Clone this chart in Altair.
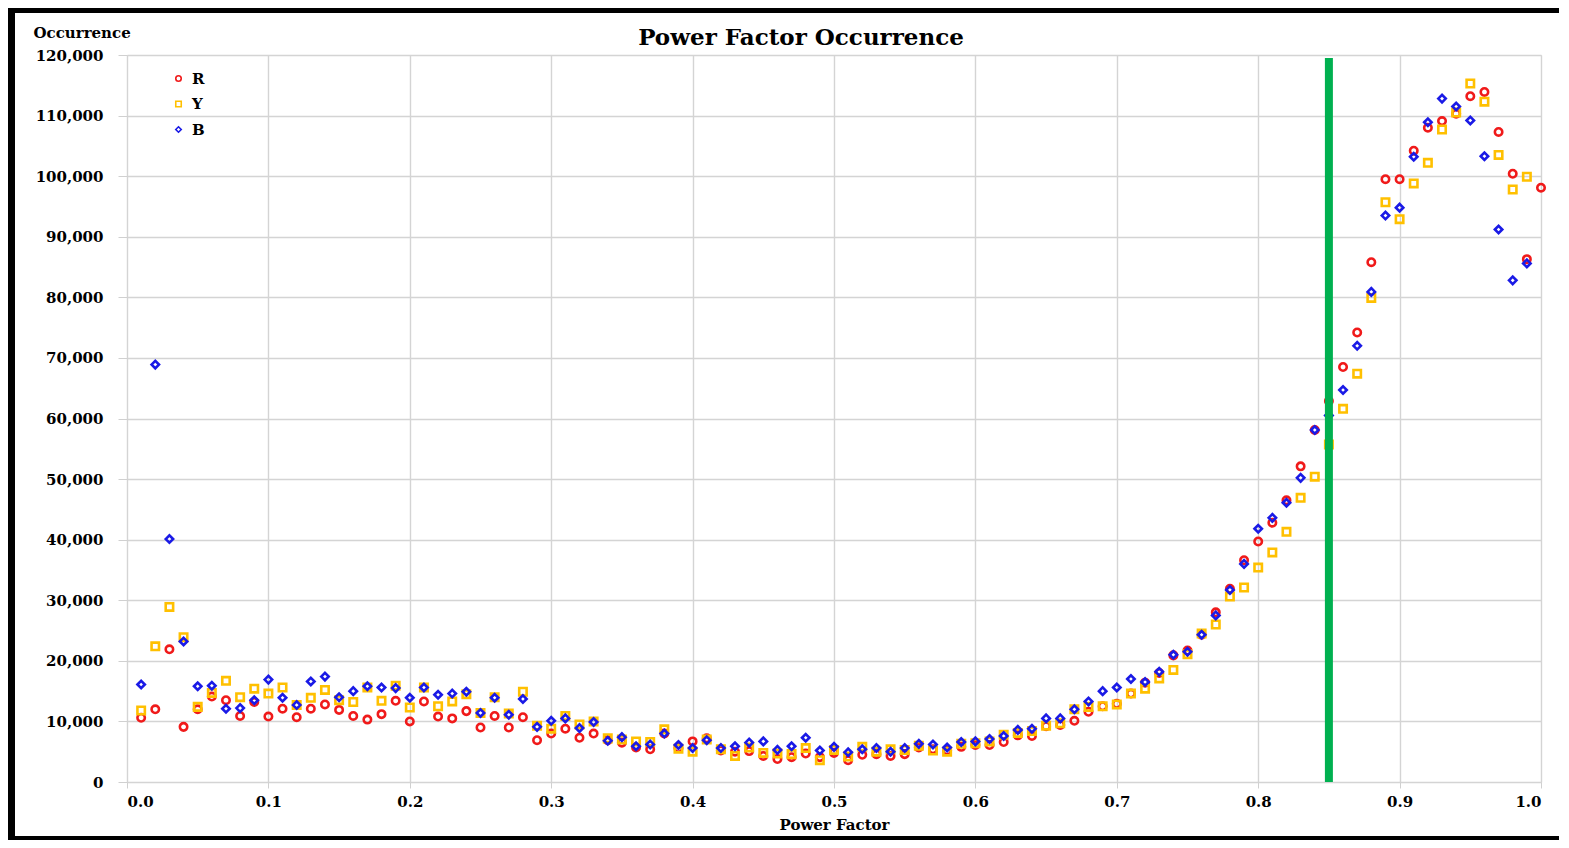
import altair as alt
import pandas as pd

power_factor = [0.01, 0.02, 0.03, 0.04, 0.05, 0.06, 0.07, 0.08, 0.09, 0.10,
                0.11, 0.12, 0.13, 0.14, 0.15, 0.16, 0.17, 0.18, 0.19, 0.20,
                0.21, 0.22, 0.23, 0.24, 0.25, 0.26, 0.27, 0.28, 0.29, 0.30,
                0.31, 0.32, 0.33, 0.34, 0.35, 0.36, 0.37, 0.38, 0.39, 0.40,
                0.41, 0.42, 0.43, 0.44, 0.45, 0.46, 0.47, 0.48, 0.49, 0.50,
                0.51, 0.52, 0.53, 0.54, 0.55, 0.56, 0.57, 0.58, 0.59, 0.60,
                0.61, 0.62, 0.63, 0.64, 0.65, 0.66, 0.67, 0.68, 0.69, 0.70,
                0.71, 0.72, 0.73, 0.74, 0.75, 0.76, 0.77, 0.78, 0.79, 0.80,
                0.81, 0.82, 0.83, 0.84, 0.85, 0.86, 0.87, 0.88, 0.89, 0.90,
                0.91, 0.92, 0.93, 0.94, 0.95, 0.96, 0.97, 0.98, 0.99, 1.00]

r_values = [10600, 12000, 21900, 9100, 12000, 14100, 13500, 10900, 13200, 10800,
            12100, 10700, 12100, 12800, 11900, 10900, 10300, 11200, 13400, 10000,
            13300, 10800, 10500, 11700, 9000, 10900, 9000, 10700, 6900, 8000,
            8800, 7300, 8000, 6900, 6500, 5700, 5400, 8000, 5600, 6700,
            7200, 5200, 5000, 5100, 4300, 3800, 4100, 4700, 4100, 4800,
            3600, 4500, 4600, 4300, 4600, 5700, 5400, 5200, 5800, 6100,
            6100, 6600, 7700, 7600, 9200, 9400, 10100, 11600, 12500, 12900,
            14600, 16400, 18000, 20900, 21700, 24300, 28000, 31900, 36600, 39700,
            42800, 46500, 52100, 58100, 62900, 68500, 74200, 85800, 99500, 99500,
            104200, 108000, 109100, 110300, 113200, 113900, 107300, 100400, 86300, 98100]

y_values = [11800, 22400, 28900, 23900, 12400, 14700, 16700, 14000, 15400, 14600,
            15600, 12700, 13900, 15200, 13500, 13200, 15600, 13400, 15900, 12300,
            15600, 12500, 13300, 14500, 11400, 14000, 11300, 14900, 9300, 8800,
            10900, 9500, 10000, 7200, 7000, 6700, 6600, 8700, 5500, 5000,
            7000, 5400, 4300, 5700, 4800, 4700, 4600, 5600, 3600, 5300,
            4200, 5800, 5000, 5400, 5300, 6000, 5200, 5000, 6300, 6400,
            6700, 7800, 8100, 8400, 9300, 9700, 12000, 12400, 12500, 12800,
            14600, 15400, 17100, 18500, 21100, 24500, 26000, 30600, 32100, 35400,
            37900, 41300, 46900, 50400, 55700, 61600, 67400, 79900, 95700, 92900,
            98800, 102200, 107700, 110500, 115300, 112300, 103500, 97800, 99900, None]

b_values = [16100, 68900, 40100, 23200, 15800, 15900, 12100, 12200, 13500, 16900,
            13900, 12700, 16600, 17400, 14000, 15000, 15800, 15600, 15500, 13900,
            15600, 14400, 14600, 14900, 11400, 13900, 11100, 13700, 9100, 10100,
            10500, 8900, 9900, 6800, 7400, 5900, 6200, 8000, 6100, 5600,
            6900, 5600, 5900, 6500, 6700, 5300, 5900, 7300, 5200, 5800,
            4900, 5400, 5600, 5000, 5600, 6300, 6200, 5700, 6600, 6700,
            7100, 7600, 8600, 8800, 10500, 10500, 12000, 13300, 15000, 15600,
            17000, 16500, 18200, 21000, 21500, 24300, 27500, 31700, 36000, 41800,
            43600, 46100, 50200, 58100, 60500, 64700, 72000, 80900, 93500, 94800,
            103200, 108900, 112800, 111500, 109200, 103300, 91200, 82800, 85600, None]

series_names = ["R", "Y", "B"]
series_colors = ["#F01A1A", "#FFC000", "#1A1AE6"]
series_shapes = ["circle", "square", "diamond"]

x_ticks = [0.0, 0.1, 0.2, 0.3, 0.4, 0.5, 0.6, 0.7, 0.8, 0.9, 1.0]
y_ticks = [0, 10000, 20000, 30000, 40000, 50000, 60000, 70000, 80000, 90000,
           100000, 110000, 120000]

threshold_pf = [0.85]
threshold_top = [119500]

rows = []
for name, vals in zip(series_names, [r_values, y_values, b_values]):
    for pf, v in zip(power_factor, vals):
        if v is not None:
            rows.append({"pf": pf, "occ": v, "series": name})
df = pd.DataFrame(rows)

W, H = 1414, 727
FONT = "DejaVu Serif"

legend = alt.Legend(
    title=None, orient="none", legendX=44, legendY=16,
    labelFont=FONT, labelFontSize=15, labelFontWeight="bold", labelColor="black",
    symbolSize=30, symbolStrokeWidth=1.6, rowPadding=9.5, labelOffset=6,
)

points = alt.Chart(df).mark_point(filled=False, strokeWidth=2.6, size=55, opacity=1).encode(
    x=alt.X("pf:Q",
            scale=alt.Scale(domain=[0, 1], nice=False),
            axis=alt.Axis(values=x_ticks, format=".1f", title="Power Factor",
                          labelFont=FONT, labelFontSize=15, labelFontWeight="bold",
                          labelColor="black",
                          titleFont=FONT, titleFontSize=15, titleColor="black",
                          titleFontWeight="bold",
                          labelPadding=6, titlePadding=8, tickSize=6,
                          tickColor="#D0D0D0", domain=False,
                          gridColor="#D4D4D4", gridWidth=1.4)),
    y=alt.Y("occ:Q",
            scale=alt.Scale(domain=[0, 120000], nice=False),
            axis=alt.Axis(values=y_ticks, format=",d", title="Occurrence",
                          titleAngle=0, titleX=-94, titleY=-23, titleAlign="left",
                          titleBaseline="middle",
                          labelFont=FONT, labelFontSize=15, labelFontWeight="bold",
                          labelColor="black",
                          titleFont=FONT, titleFontSize=15, titleColor="black",
                          titleFontWeight="bold",
                          labelPadding=15, tickSize=9, tickColor="#D0D0D0",
                          domain=False, gridColor="#D4D4D4", gridWidth=1.4)),
    color=alt.Color("series:N", scale=alt.Scale(domain=series_names, range=series_colors),
                    legend=legend),
    shape=alt.Shape("series:N", scale=alt.Scale(domain=series_names, range=series_shapes),
                    legend=legend),
)

rule_df = pd.DataFrame({"pf": threshold_pf, "base": [0], "top": threshold_top})
rule = alt.Chart(rule_df).mark_rule(color="#00B050", strokeWidth=8).encode(
    x="pf:Q", y="base:Q", y2="top:Q"
)

# decorative black frame around the picture (left, top, bottom edges)
one = pd.DataFrame({"k": [0]})
frame_left = alt.Chart(one).mark_rule(color="black", strokeWidth=8).encode(
    x=alt.value(-116), y=alt.value(-60), y2=alt.value(800)
)
frame_top = alt.Chart(one).mark_rule(color="black", strokeWidth=8).encode(
    x=alt.value(-120), x2=alt.value(W + 18), y=alt.value(-46)
)
frame_bottom = alt.Chart(one).mark_rule(color="black", strokeWidth=8).encode(
    x=alt.value(-120), x2=alt.value(W + 18), y=alt.value(785)
)

chart = alt.layer(points, rule, frame_left, frame_top, frame_bottom).properties(
    width=W, height=H,
    title=alt.TitleParams("Power Factor Occurrence", font=FONT, fontSize=23,
                          fontWeight="bold", color="black", anchor="middle",
                          dx=-33, dy=71, offset=12),
    autosize=alt.AutoSizeParams(type="none"),
    padding={"left": 119, "top": 47, "right": 20, "bottom": 58},
).configure_view(stroke=None).configure(background="white")

chart.save("out.html", embed_options={"renderer": "svg", "actions": False})
